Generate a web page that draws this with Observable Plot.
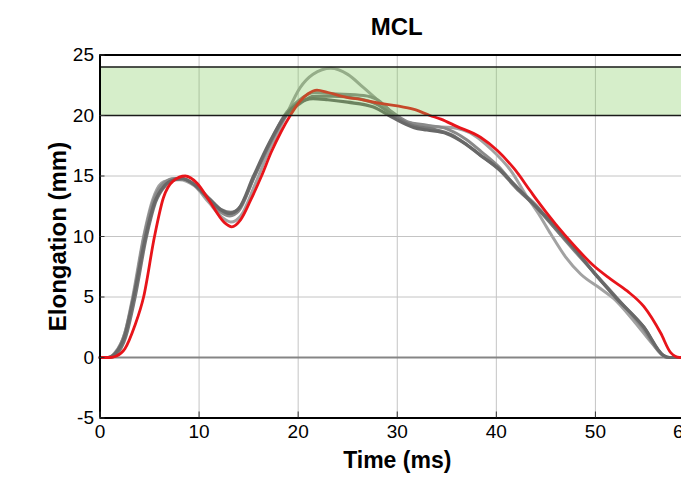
<!DOCTYPE html>
<html>
<head>
<meta charset="utf-8">
<script src="https://cdn.jsdelivr.net/npm/d3@7"></script>
<script src="https://cdn.jsdelivr.net/npm/@observablehq/plot@0.6"></script>
<style>
  html, body { margin: 0; padding: 0; background: #fff; overflow: hidden; width: 681px; height: 477px; }
  #title { position: absolute; left: 0; top: 14.7px; width: 793.5px; text-align: center;
           font: bold 24px "Liberation Sans", Arial, sans-serif; line-height: 24px; color: #000; }
  #chart { position: absolute; left: 0; top: 40px; }
</style>
</head>
<body>
<div id="title">MCL</div>
<div id="chart"></div>
<script>
// ---- data ----
const titleText = "MCL";
const xLabel = "Time (ms)";
const yLabel = "Elongation (mm)";
const xDomain = [0, 60];
const yDomain = [-5, 25];
const xTicks = [0, 10, 20, 30, 40, 50, 60];
const yTicks = [-5, 0, 5, 10, 15, 20, 25];
const bandLow = 20;
const bandHigh = 24;

// red curve
const redT = [0,1,1.6,2.5,3.5,4.4,5.5,6.4,7.4,8.6,9.8,11,12.5,13.3,14.2,15.2,16.3,17.3,18.3,19.2,20.2,21,21.9,23,24.9,26.5,28.3,30,31.7,33.3,34.4,36,38.4,40.1,41.8,43.4,44.1,46,47.8,49.8,51.5,53.2,54.9,56.6,57.6,58.5,60];
const redV = [0,0,0.1,0.7,2.6,5,10,13.2,14.6,15,14.4,13,11.2,10.8,11.4,13,15,17,18.7,20,21.2,21.8,22.1,21.9,21.5,21.3,21.0,20.8,20.5,20.0,19.7,19.1,18.2,17.1,15.6,13.8,13.0,11.0,9.3,7.6,6.5,5.5,4.2,2.0,0.4,0,0];

// light gray (peaks high)
const gray1T = [0,0.8,1.5,2.5,3.3,4.4,5.3,6.2,6.8,8,9.5,11,12.3,13.2,14.2,15.6,17,18.6,20.2,21.5,23.3,25,26.6,28,29,30,31.7,33.5,35.5,37.7,39.5,41.5,43,44.4,45.5,47,48.5,50.5,51.8,54,56,57.2,60];
const gray1V = [0,0,0.4,2,5,10,13,14.4,14.6,14.7,14.2,12.8,11.6,11.2,11.7,14.2,17,19.7,22.3,23.4,23.9,23.4,22.3,21.3,20.6,19.8,19.3,19.1,19.0,18.4,17.2,15.4,13.4,11.7,10.2,8.3,6.9,5.7,4.9,2.9,0.9,0,0];

// medium gray
const gray2T = [0,0.9,1.6,2.5,3.4,4.5,5.4,6.4,7.5,8.3,9.6,11,12.2,13.1,14,15.5,17,18.6,20,21.6,23.5,26.6,28,29.3,31,33,35,37,38.5,40.2,42,44,46,48,50,52.2,54.8,56.5,57.2,60];
const gray2V = [0,0,0.4,2,5.2,10.2,13,14.4,14.8,14.8,14.2,13,12,11.7,12.1,14.8,17.5,20,21.2,21.9,21.8,21.65,21.3,20.4,19.5,19.2,18.9,18,17,15.8,14.1,12.6,10.6,8.7,6.9,4.9,2.4,0.4,0,0];

// dark gray (lowest plateau)
const gray3T = [0,0.8,1.5,2.5,3.4,4.6,5.5,6.5,7.5,8.2,9.5,11,12.2,13.1,14,15.5,17,18.7,20,21.5,23,25,27.6,29.6,31.7,33,35,36.8,38.4,40.1,41.8,43.6,46,48,49.8,52.2,54.9,56.9,57.5,60];
const gray3V = [0,0,0.3,1.8,5,10,12.8,14.2,14.7,14.8,14.3,13.1,12.2,11.9,12.3,15,17.6,20,21,21.4,21.3,21.1,20.7,19.8,19.0,18.8,18.5,17.7,16.7,15.7,14.3,12.8,10.8,8.9,7.05,4.85,2.5,0.15,0,0];

// gray 4
const gray4T = [0,1,1.7,2.6,3.5,4.7,5.6,6.6,7.6,8.4,9.7,11.1,12.3,13.2,14.1,15.6,17.1,18.8,20.2,21.6,23.5,26,28,29.8,31.5,33.5,35.5,37,38.6,40.3,42,43.8,46,48,50,52.2,54.9,56.8,57.4,60];
const gray4V = [0,0,0.3,1.7,4.8,10,12.8,14.2,14.7,14.75,14.2,13.1,12.2,12.0,12.4,15,17.6,20,21,21.6,21.6,21.4,20.9,19.9,19.2,18.9,18.4,17.6,16.6,15.5,14,12.6,10.6,8.8,6.9,4.8,2.5,0.2,0,0];

const toRows = (T, V) => T.map((t, i) => ({t, v: V[i]}));
const red = toRows(redT, redV);
const g1 = toRows(gray1T, gray1V);
const g2 = toRows(gray2T, gray2V);
const g3 = toRows(gray3T, gray3V);
const g4 = toRows(gray4T, gray4V);

document.getElementById("title").textContent = titleText;

const W = 681, H = 437;
const xRange = [99.5, 694];
const yRange = [377.5, 14.5];
const xMid = (xDomain[0] + xDomain[1]) / 2;
const yMid = (yDomain[0] + yDomain[1]) / 2;
const font = "'Liberation Sans', Arial, sans-serif";
const lineOpts = {x: "t", y: "v", curve: "monotone-x", strokeLinejoin: "round", strokeLinecap: "round"};
const fmt = d => String(d);
const lastX = xTicks[xTicks.length - 1];

const chart = Plot.plot({
  width: W,
  height: H,
  marginLeft: xRange[0],
  marginRight: W - xRange[1],
  marginTop: yRange[1],
  marginBottom: H - yRange[0],
  style: {fontFamily: font, background: "#fff", color: "#000"},
  x: {domain: xDomain, range: xRange},
  y: {domain: yDomain, range: yRange},
  marks: [
    // grid
    Plot.ruleX(xTicks.filter(d => d > xDomain[0]), {stroke: "#c4c4c4", strokeWidth: 1}),
    Plot.ruleY(yTicks.filter(d => d > 0 && d < bandLow), {stroke: "#c4c4c4", strokeWidth: 1}),
    Plot.ruleY([0], {stroke: "#858585", strokeWidth: 2}),
    // curves
    Plot.line(g1, {...lineOpts, stroke: "#a2a2a2", strokeWidth: 3}),
    Plot.line(g2, {...lineOpts, stroke: "#8a8a8a", strokeWidth: 3}),
    Plot.line(g4, {...lineOpts, stroke: "#777777", strokeWidth: 3}),
    Plot.line(g3, {...lineOpts, stroke: "#686868", strokeWidth: 3.2}),
    Plot.line(red, {...lineOpts, stroke: "#e8141a", strokeWidth: 2.8}),
    // translucent green band on top
    Plot.rect([{lo: bandLow, hi: bandHigh}], {x1: xDomain[0], x2: xDomain[1] + 2, y1: "lo", y2: "hi", fill: "rgb(120,200,80)", fillOpacity: 0.3}),
    Plot.ruleY([bandLow, bandHigh], {stroke: "#1a1a1a", strokeWidth: 1.5}),
    // frame
    Plot.ruleY([yDomain[0], yDomain[1]], {stroke: "#000", strokeWidth: 2}),
    Plot.ruleX([xDomain[0]], {stroke: "#000", strokeWidth: 2}),
    // small inner ticks
    Plot.ruleX(xTicks, {x: d => d, y1: yDomain[0], y2: yDomain[0], insetTop: -6, stroke: "#333", strokeWidth: 1}),
    Plot.ruleY(yTicks, {y: d => d, x1: xDomain[0], x2: xDomain[0], insetRight: -5, stroke: "#333", strokeWidth: 1}),
    // axes
    Plot.axisX({ticks: xTicks.filter(d => d < lastX), tickFormat: fmt, tickSize: 0, tickPadding: 6, fontSize: 19, label: null, anchor: "bottom"}),
    Plot.text([lastX], {x: d => d, y: yDomain[0], text: fmt, dx: -11, dy: 6, lineAnchor: "top", textAnchor: "middle", fontSize: 19}),
    Plot.axisY({ticks: yTicks, tickFormat: fmt, tickSize: 0, tickPadding: 6, fontSize: 19, label: null, anchor: "left"}),
    // axis titles
    Plot.text([xLabel], {x: xMid, y: yDomain[0], dy: 43, text: d => d, fontSize: 23, fontWeight: "bold", textAnchor: "middle", lineAnchor: "middle"}),
    Plot.text([yLabel], {x: xDomain[0], y: yMid, dx: -42, rotate: -90, text: d => d, fontSize: 24, fontWeight: "bold", textAnchor: "middle", lineAnchor: "middle"})
  ]
});
document.getElementById("chart").appendChild(chart);
</script>
</body>
</html>
